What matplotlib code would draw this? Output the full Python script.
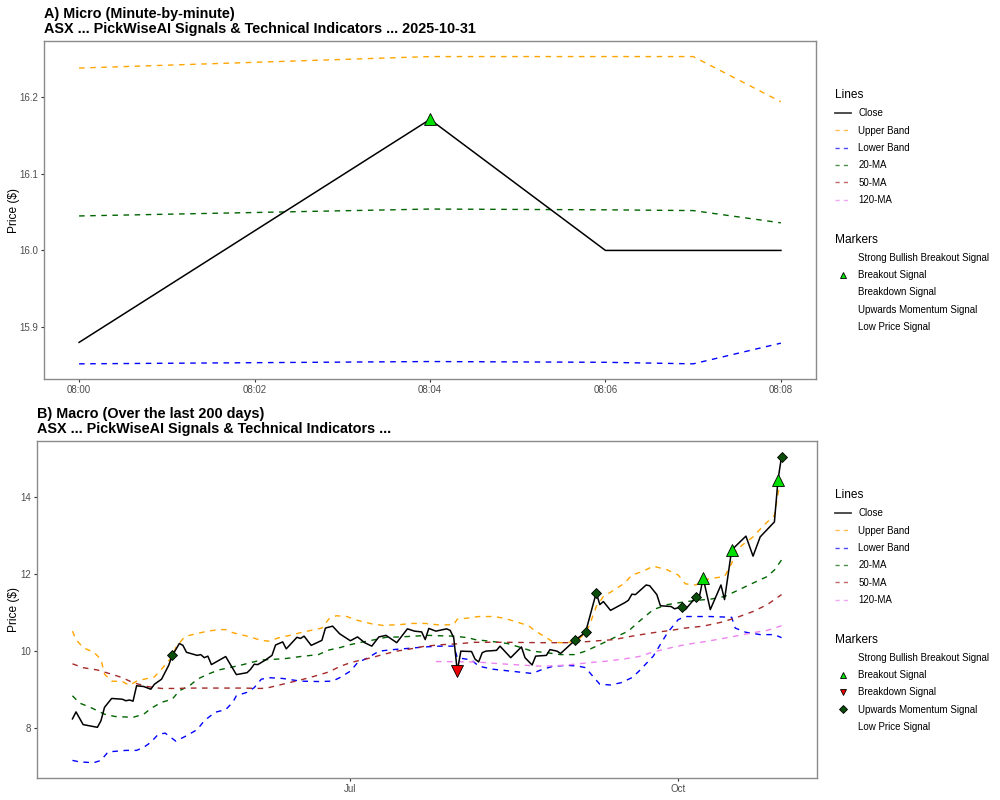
import matplotlib
matplotlib.use("Agg")
import matplotlib.pyplot as plt
import matplotlib.dates as mdates
from matplotlib.lines import Line2D
import pandas as pd

plt.rcParams['font.family'] = ['Liberation Sans', 'DejaVu Sans']

# ---------------- A) micro data (2025-10-31) ----------------
micro_times = ['08:00', '08:04', '08:06', '08:07', '08:08']
micro_close = [15.880, 16.171, 16.000, 16.000, 16.000]
micro_upper = [16.238, 16.253, 16.253, 16.253, 16.194]
micro_lower = [15.852, 15.855, 15.854, 15.852, 15.879]
micro_ma20 = [16.045, 16.054, 16.053, 16.052, 16.036]
micro_breakout_times = ['08:04']
micro_breakout_vals = [16.171]

# ---------------- B) macro data (last 200 days, 2025) ----------------
close_dates = ['04-14', '04-15', '04-17', '04-21', '04-22', '04-23', '04-25', '04-28', '04-29', '04-30',
               '05-01', '05-02', '05-04', '05-06', '05-07', '05-09', '05-11', '05-12', '05-13', '05-14',
               '05-15', '05-16', '05-19', '05-20', '05-21', '05-22', '05-23', '05-27', '05-30', '06-02',
               '06-03', '06-04', '06-05', '06-07', '06-09', '06-10', '06-12', '06-13', '06-16', '06-17',
               '06-18', '06-20', '06-23', '06-24', '06-26', '06-28', '07-01', '07-03', '07-05', '07-07',
               '07-09', '07-11', '07-14', '07-17', '07-19', '07-21', '07-22', '07-23', '07-25', '07-28',
               '07-29', '07-30', '07-31', '08-01', '08-04', '08-05', '08-06', '08-07', '08-08', '08-11',
               '08-12', '08-15', '08-18', '08-19', '08-21', '08-22', '08-25', '08-26', '08-28', '08-29',
               '09-02', '09-05', '09-08', '09-09', '09-10', '09-12', '09-16', '09-17', '09-18', '09-19',
               '09-22', '09-23', '09-25', '09-26', '09-29', '09-30', '10-02', '10-03', '10-06', '10-07',
               '10-08', '10-10', '10-13', '10-14', '10-16', '10-20', '10-22', '10-24', '10-28', '10-29',
               '10-30']
close_vals = [8.24, 8.42, 8.09, 8.02, 8.19, 8.54, 8.77, 8.75, 8.71, 8.73,
              8.70, 9.10, 9.08, 9.01, 9.14, 9.27, 9.63, 9.89, 10.04, 10.20,
              10.15, 9.97, 9.89, 9.91, 9.83, 9.87, 9.65, 9.86, 9.39, 9.44,
              9.53, 9.66, 9.65, 9.76, 9.89, 10.16, 10.24, 10.06, 10.36, 10.33,
              10.39, 10.15, 10.28, 10.60, 10.65, 10.45, 10.27, 10.37, 10.22, 10.13,
              10.37, 10.41, 10.22, 10.58, 10.52, 10.50, 10.30, 10.59, 10.52, 10.58,
              10.54, 10.35, 9.48, 10.00, 9.99, 9.79, 9.72, 9.96, 10.00, 10.02,
              10.13, 9.83, 10.11, 9.83, 9.64, 9.87, 9.89, 10.04, 10.00, 9.94,
              10.28, 10.49, 11.52, 11.21, 11.29, 11.06, 11.26, 11.32, 11.48, 11.47,
              11.72, 11.70, 11.47, 11.18, 11.16, 11.10, 11.16, 11.08, 11.41, 11.44,
              11.90, 11.08, 11.72, 11.34, 12.63, 12.99, 12.47, 12.97, 13.36, 14.45,
              15.06]

upper_dates = ['04-14', '04-15', '04-17', '04-20', '04-22', '04-23', '04-25', '04-28', '04-30', '05-02',
               '05-05', '05-07', '05-09', '05-12', '05-13', '05-15', '05-16', '05-19', '05-22', '05-25',
               '05-27', '05-29', '06-02', '06-06', '06-08', '06-11', '06-14', '06-17', '06-20', '06-23',
               '06-25', '06-27', '06-30', '07-03', '07-07', '07-10', '07-15', '07-18', '07-22', '07-26',
               '07-30', '07-31', '08-03', '08-06', '08-10', '08-13', '08-17', '08-20', '08-22', '08-25',
               '08-27', '08-29', '08-31', '09-03', '09-04', '09-06', '09-08', '09-10', '09-13', '09-16',
               '09-18', '09-21', '09-24', '09-28', '10-01', '10-03', '10-06', '10-08', '10-11', '10-14',
               '10-16', '10-17', '10-19', '10-22', '10-25', '10-28', '10-29', '10-30']
upper_vals = [10.52, 10.30, 10.09, 9.97, 9.79, 9.40, 9.22, 9.21, 9.11, 9.22,
              9.29, 9.33, 9.53, 9.86, 10.09, 10.32, 10.39, 10.46, 10.52, 10.56,
              10.56, 10.48, 10.39, 10.28, 10.26, 10.35, 10.41, 10.48, 10.54, 10.60,
              10.84, 10.92, 10.90, 10.80, 10.71, 10.67, 10.69, 10.72, 10.72, 10.68,
              10.69, 10.83, 10.86, 10.90, 10.90, 10.86, 10.75, 10.66, 10.52, 10.35,
              10.23, 10.22, 10.22, 10.30, 10.39, 10.65, 11.16, 11.42, 11.59, 11.77,
              11.98, 12.07, 12.21, 12.11, 11.98, 11.75, 11.72, 11.85, 11.90, 11.94,
              12.28, 12.58, 12.76, 12.97, 13.27, 13.53, 14.09, 14.61]

lower_dates = ['04-14', '04-16', '04-20', '04-22', '04-24', '04-29', '05-02', '05-04', '05-06', '05-08',
               '05-10', '05-13', '05-16', '05-19', '05-21', '05-24', '05-27', '05-29', '05-30', '06-02',
               '06-04', '06-06', '06-08', '06-12', '06-17', '06-22', '06-26', '06-28', '07-01', '07-03',
               '07-06', '07-09', '07-13', '07-17', '07-22', '07-26', '07-30', '07-31', '08-02', '08-04',
               '08-06', '08-10', '08-15', '08-19', '08-21', '08-24', '08-27', '08-31', '09-03', '09-05',
               '09-07', '09-09', '09-12', '09-15', '09-18', '09-20', '09-24', '09-28', '10-01', '10-03',
               '10-06', '10-10', '10-16', '10-17', '10-20', '10-24', '10-28', '10-30']
lower_vals = [7.16, 7.12, 7.10, 7.16, 7.38, 7.42, 7.42, 7.50, 7.63, 7.83,
              7.87, 7.66, 7.80, 7.96, 8.19, 8.41, 8.48, 8.67, 8.84, 8.93,
              9.05, 9.27, 9.31, 9.29, 9.22, 9.21, 9.22, 9.31, 9.48, 9.70,
              9.83, 10.00, 10.04, 10.07, 10.11, 10.13, 10.13, 9.83, 9.80, 9.77,
              9.61, 9.53, 9.48, 9.44, 9.42, 9.53, 9.61, 9.63, 9.61, 9.57,
              9.35, 9.14, 9.12, 9.18, 9.31, 9.48, 9.87, 10.48, 10.82, 10.90,
              10.90, 10.90, 10.88, 10.60, 10.49, 10.43, 10.43, 10.35]

ma20_dates = ['04-14', '04-16', '04-19', '04-23', '04-26', '05-01', '05-04', '05-06', '05-09', '05-12',
              '05-14', '05-17', '05-19', '05-22', '05-25', '05-28', '05-31', '06-03', '06-06', '06-10',
              '06-13', '06-17', '06-22', '06-25', '06-28', '07-01', '07-04', '07-08', '07-11', '07-15',
              '07-19', '07-23', '07-26', '07-30', '08-03', '08-05', '08-09', '08-14', '08-18', '08-21',
              '08-25', '08-29', '09-02', '09-05', '09-09', '09-13', '09-17', '09-20', '09-24', '09-28',
              '10-02', '10-06', '10-10', '10-14', '10-17', '10-22', '10-26', '10-28', '10-30']
ma20_vals = [8.84, 8.65, 8.54, 8.36, 8.30, 8.28, 8.36, 8.51, 8.67, 8.75,
             8.97, 9.11, 9.27, 9.40, 9.51, 9.57, 9.63, 9.70, 9.77, 9.79,
             9.81, 9.86, 9.91, 10.03, 10.09, 10.17, 10.23, 10.30, 10.36, 10.37,
             10.39, 10.41, 10.40, 10.39, 10.35, 10.30, 10.26, 10.20, 10.09, 10.00,
             9.96, 9.91, 9.91, 10.00, 10.17, 10.35, 10.52, 10.77, 11.08, 11.21,
             11.27, 11.32, 11.35, 11.42, 11.55, 11.77, 11.94, 12.11, 12.37]

ma50_dates = ['04-14', '04-17', '04-21', '04-25', '04-28', '05-01', '05-05', '05-09', '05-13', '05-18',
              '05-23', '05-27', '06-01', '06-06', '06-08', '06-12', '06-17', '06-21', '06-25', '06-28',
              '07-01', '07-04', '07-07', '07-10', '07-14', '07-18', '07-22', '07-27', '07-31', '08-05',
              '08-14', '08-23', '09-02', '09-07', '09-13', '09-18', '09-24', '09-29', '10-03', '10-08',
              '10-13', '10-17', '10-22', '10-26', '10-30']
ma50_vals = [9.67, 9.57, 9.51, 9.40, 9.31, 9.18, 9.08, 9.03, 9.03, 9.04,
             9.04, 9.04, 9.04, 9.03, 9.05, 9.14, 9.25, 9.35, 9.46, 9.60,
             9.70, 9.77, 9.83, 9.91, 10.00, 10.06, 10.13, 10.17, 10.19, 10.23,
             10.23, 10.22, 10.22, 10.26, 10.30, 10.39, 10.48, 10.54, 10.60, 10.65,
             10.75, 10.86, 11.03, 11.21, 11.47]

ma120_dates = ['07-25', '08-05', '08-14', '08-23', '08-28', '09-02', '09-06', '09-11', '09-16', '09-20',
               '09-24', '09-29', '10-03', '10-08', '10-13', '10-17', '10-22', '10-26', '10-30']
ma120_vals = [9.73, 9.72, 9.66, 9.61, 9.62, 9.66, 9.70, 9.74, 9.80, 9.86,
              9.98, 10.09, 10.17, 10.24, 10.32, 10.39, 10.48, 10.54, 10.66]

breakout_dates = ['10-08', '10-16', '10-29']
breakout_vals = [11.90, 12.63, 14.45]
breakdown_dates = ['07-31']
breakdown_vals = [9.48]
momentum_dates = ['05-12', '09-02', '09-05', '09-08', '10-02', '10-06', '10-30']
momentum_vals = [9.89, 10.28, 10.49, 11.52, 11.16, 11.41, 15.06]

line_names = ['Close', 'Upper Band', 'Lower Band', '20-MA', '50-MA', '120-MA']
line_colors = ['black', '#FFA500', '#0000FF', '#006400', '#A52A2A', '#EE82EE']
marker_names = ['Strong Bullish Breakout Signal', 'Breakout Signal', 'Breakdown Signal',
                'Upwards Momentum Signal', 'Low Price Signal']


def to_dt(days):
    return pd.to_datetime(['2025-' + d for d in days])


def to_tm(times):
    return pd.to_datetime(['2025-10-31 ' + t for t in times])


DASH = (0, (4, 4))
BORDER = '#8a8a8a'
TICK_FS = 7.0
LAB_FS = 8.6
TITLE_FS = 10.4
LEG_FS = 7.0


def style_axes(ax, label_x):
    for s in ax.spines.values():
        s.set_color(BORDER)
        s.set_linewidth(1.0)
    ax.tick_params(axis='both', colors='#333333', labelcolor='#4d4d4d',
                   labelsize=TICK_FS, length=2.5, width=0.8, pad=2)
    ax.set_ylabel('Price ($)', fontsize=LAB_FS)
    ax.yaxis.set_label_coords(label_x, 0.5)


def add_legends(fig, top_y, shown):
    lh = [Line2D([], [], color=c, lw=1.3 if n == 'Close' else 1.0,
                 ls='-' if n == 'Close' else (0, (3, 3)), alpha=0.7 if n != 'Close' else 0.75)
          for n, c in zip(line_names, line_colors)]
    fig.legend(lh, line_names, title='Lines', loc='upper left',
               bbox_to_anchor=(0.835, top_y), frameon=False, fontsize=LEG_FS,
               title_fontsize=LAB_FS, alignment='left', handlelength=1.6,
               handletextpad=0.8, labelspacing=0.75, borderpad=0, borderaxespad=0)
    mh = []
    for n in marker_names:
        if n in shown:
            mk, fc = shown[n]
            mh.append(Line2D([], [], ls='none', marker=mk, markersize=4.5,
                             markerfacecolor=fc, markeredgecolor='black', markeredgewidth=0.6))
        else:
            mh.append(Line2D([], [], ls='none'))
    fig.legend(mh, marker_names, title='Markers', loc='upper left',
               bbox_to_anchor=(0.835, top_y - 0.1805), frameon=False, fontsize=LEG_FS,
               title_fontsize=LAB_FS, alignment='left', handlelength=1.6,
               handletextpad=0.8, labelspacing=0.75, borderpad=0, borderaxespad=0)


fig = plt.figure(figsize=(10, 8), dpi=100)

# ---------------- panel A ----------------
ax1 = fig.add_axes([0.044, 0.526, 0.772, 0.4225])
tm = to_tm(micro_times)
ax1.plot(tm, micro_close, color='black', lw=1.1, zorder=5)
ax1.plot(tm, micro_upper, color=line_colors[1], lw=1.0, ls=DASH)
ax1.plot(tm, micro_lower, color=line_colors[2], lw=1.0, ls=DASH)
ax1.plot(tm, micro_ma20, color=line_colors[3], lw=1.0, ls=DASH)
ax1.plot(to_tm(micro_breakout_times), micro_breakout_vals, ls='none', marker='^', markersize=8,
         markerfacecolor='#00E000', markeredgecolor='black', markeredgewidth=0.6, zorder=6)
ax1.xaxis.set_major_locator(mdates.MinuteLocator(byminute=range(0, 60, 2)))
ax1.xaxis.set_major_formatter(mdates.DateFormatter('%H:%M'))
ax1.set_yticks([15.9, 16.0, 16.1, 16.2])
style_axes(ax1, -0.031)
ax1.set_title('A) Micro (Minute-by-minute)\nASX ... PickWiseAI Signals & Technical Indicators ... 2025-10-31',
              loc='left', fontsize=TITLE_FS, fontweight='bold', pad=6, linespacing=1.1)
add_legends(fig, 0.8885, {'Breakout Signal': ('^', '#00E000')})

# ---------------- panel B ----------------
ax2 = fig.add_axes([0.037, 0.0275, 0.780, 0.421])
ax2.plot(to_dt(close_dates), close_vals, color='black', lw=1.1, zorder=5)
ax2.plot(to_dt(upper_dates), upper_vals, color=line_colors[1], lw=1.0, ls=DASH)
ax2.plot(to_dt(lower_dates), lower_vals, color=line_colors[2], lw=1.0, ls=DASH)
ax2.plot(to_dt(ma20_dates), ma20_vals, color=line_colors[3], lw=1.0, ls=DASH)
ax2.plot(to_dt(ma50_dates), ma50_vals, color=line_colors[4], lw=1.0, ls=DASH)
ax2.plot(to_dt(ma120_dates), ma120_vals, color=line_colors[5], lw=1.0, ls=DASH)
ax2.plot(to_dt(breakout_dates), breakout_vals, ls='none', marker='^', markersize=8,
         markerfacecolor='#00E000', markeredgecolor='black', markeredgewidth=0.6, zorder=6)
ax2.plot(to_dt(breakdown_dates), breakdown_vals, ls='none', marker='v', markersize=8,
         markerfacecolor='#EE0000', markeredgecolor='black', markeredgewidth=0.6, zorder=6)
ax2.plot(to_dt(momentum_dates), momentum_vals, ls='none', marker='D', markersize=5.5,
         markerfacecolor='#0B4D0B', markeredgecolor='black', markeredgewidth=0.6, zorder=6)
ax2.xaxis.set_major_locator(mdates.MonthLocator(bymonth=[1, 4, 7, 10]))
ax2.xaxis.set_major_formatter(mdates.DateFormatter('%b'))
ax2.set_yticks([8, 10, 12, 14])
style_axes(ax2, -0.0218)
ax2.set_title('B) Macro (Over the last 200 days)\nASX ... PickWiseAI Signals & Technical Indicators ...',
              loc='left', fontsize=TITLE_FS, fontweight='bold', pad=6, linespacing=1.1)
add_legends(fig, 0.3885, {'Breakout Signal': ('^', '#00E000'),
                          'Breakdown Signal': ('v', '#EE0000'),
                          'Upwards Momentum Signal': ('D', '#0B4D0B')})

fig.savefig('out.png', dpi=100)
